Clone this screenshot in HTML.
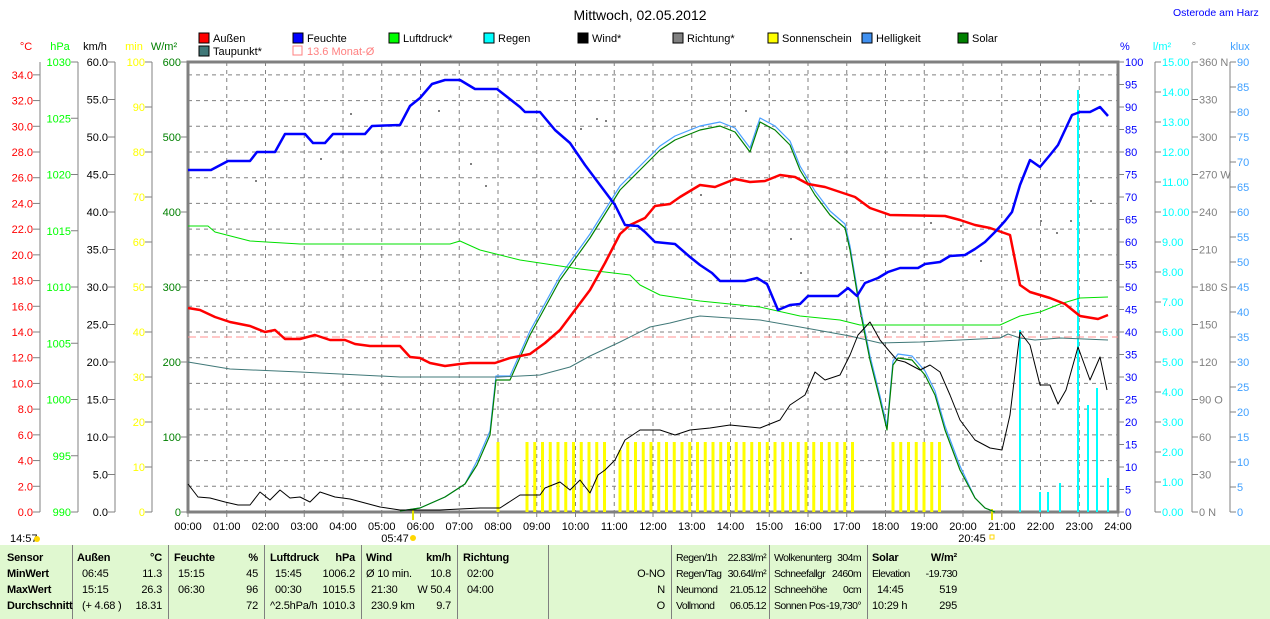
<!DOCTYPE html>
<html><head><meta charset="utf-8"><style>
body{margin:0;background:#fff;width:1270px;height:619px;overflow:hidden;font-family:"Liberation Sans",sans-serif}
svg text{font-family:"Liberation Sans",sans-serif;font-size:11px}
#tbl{position:absolute;left:0;top:545px;width:1270px;height:74px;background:#e0f8d0;font-size:11px;font-family:"Liberation Sans",sans-serif;letter-spacing:-0.2px}
#tbl div{position:absolute;white-space:nowrap}
#tbl div.n{letter-spacing:-0.6px;font-size:10.5px}
.sep{width:1px;background:#808080;top:0;height:74px}
b{font-weight:bold}
</style></head><body>
<svg id="s" width="1270" height="545" style="position:absolute;left:0;top:0">
<text x="640" y="20" text-anchor="middle" style="font-size:14px">Mittwoch, 02.05.2012</text>
<text x="1173" y="16" fill="#0000ff" style="font-size:10.5px">Osterode am Harz</text>
</svg>
<div id="tbl"></div>
<script>
const s=document.getElementById('s');const NS='http://www.w3.org/2000/svg';
function el(t,a,txt){const e=document.createElementNS(NS,t);for(const k in a)e.setAttribute(k,a[k]);if(txt!==undefined)e.textContent=txt;s.appendChild(e);return e}
const L=188,R=1118,T=62,B=512,H=450;
for(let i=1;i<24;i++){const x=L+i*(R-L)/24;el('line',{x1:x,y1:T,x2:x,y2:B,stroke:'#808080','stroke-dasharray':'4,4'})}
for(let v=2;v<=34;v+=2){const y=B-v*H/35;el('line',{x1:L,y1:y,x2:R,y2:y,stroke:'#808080','stroke-dasharray':'4,4'})}
function laxis(x,min,max,step,col,dec,lab,lx,vmax){el('line',{x1:x,y1:T,x2:x,y2:B,stroke:'#808080'});
 for(let v=min;v<=vmax+1e-9;v+=step){const y=B-(v-min)/(max-min)*H;el('line',{x1:x-7,y1:y,x2:x,y2:y,stroke:'#808080'});el('text',{x:x-7,y:y+4,'text-anchor':'end',fill:col},v.toFixed(dec))}
 el('text',{x:lx,y:50,'text-anchor':'middle',fill:col},lab)}
laxis(40,0,35,2,'#ff0000',1,'°C',26,34);
laxis(78,990,1030,5,'#00ff00',0,'hPa',60,1030);
laxis(115,0,60,5,'#000000',1,'km/h',95,60);
laxis(152,0,100,10,'#ffff00',0,'min',134,100);
laxis(188,0,600,100,'#008000',0,'W/m²',164,600);
function raxis(x,min,max,step,col,dec,lab,lx,fmt){el('line',{x1:x,y1:T,x2:x,y2:B,stroke:'#808080'});
 for(let v=min;v<=max+1e-9;v+=step){const y=B-(v-min)/(max-min)*H;el('line',{x1:x,y1:y,x2:x+6,y2:y,stroke:'#808080'});el('text',{x:x+7,y:y+4,fill:col},fmt?fmt(v):v.toFixed(dec))}
 el('text',{x:lx,y:50,'text-anchor':'middle',fill:col},lab)}
raxis(1155,0,15,1,'#00ffff',2,'l/m²',1162);
raxis(1192,0,360,30,'#808080',0,'°',1194,v=>v==360?'360 N':v==270?'270 W':v==180?'180 S':v==90?'90  O':v==0?'0   N':v);
raxis(1230,0,90,5,'#40a0ff',0,'klux',1240);
for(let v=0;v<=100;v+=5){const y=B-v*H/100;el('line',{x1:R,y1:y,x2:R+6,y2:y,stroke:'#808080'});el('text',{x:R+7,y:y+4,fill:'#0000ff'},v)}
el('text',{x:1120,y:50,fill:'#0000ff'},'%');
el('rect',{x:L,y:T,width:R-L,height:H,fill:'none',stroke:'#808080','stroke-width':3});
for(let i=0;i<=24;i++){const x=L+i*(R-L)/24;el('line',{x1:x,y1:B,x2:x,y2:B+5,stroke:'#808080'});el('text',{x:x,y:530,'text-anchor':'middle'},(i<10?'0':'')+i+':00')}
el('text',{x:10,y:542},'14:57');el('circle',{cx:37,cy:539,r:3,fill:'#ffd700'});
el('text',{x:395,y:542,'text-anchor':'middle'},'05:47');el('circle',{cx:413,cy:538,r:3,fill:'#ffd700'});
el('text',{x:972,y:542,'text-anchor':'middle'},'20:45');el('rect',{x:990,y:535,width:4,height:4,fill:'none',stroke:'#ffd700'});
const lg=[[199,38,'#ff0000','Außen'],[293,38,'#0000ff','Feuchte'],[389,38,'#00ff00','Luftdruck*'],[484,38,'#00ffff','Regen'],[578,38,'#000000','Wind*'],[673,38,'#808080','Richtung*'],[768,38,'#ffff00','Sonnenschein'],[862,38,'#4090f0','Helligkeit'],[958,38,'#008000','Solar'],[199,51,'#407878','Taupunkt*']];
lg.forEach(a=>{el('rect',{x:a[0],y:a[1]-5,width:10,height:10,fill:a[2],stroke:'#000'});el('text',{x:a[0]+14,y:a[1]+4},a[3])});
el('rect',{x:293,y:46,width:9,height:9,fill:'none',stroke:'#ff8080'});el('text',{x:307,y:55,fill:'#ff8080'},'13.6 Monat-Ø');
const sun=[498];for(let x=527;x<=858;x+=7.75)sun.push(x);for(let x=893;x<=944;x+=7.75)sun.push(x);
sun.forEach((x,i)=>{if(x>612&&x<618)return;const h=(Math.abs(x-585)<2||Math.abs(x-619)<2)?62:70;el('rect',{x:x-1.5,y:B-h,width:3,height:h,fill:'#ffff00'})});
el('line',{x1:413,y1:B-3,x2:413,y2:B+8,stroke:'#e0e000','stroke-width':2});el('line',{x1:992,y1:B-3,x2:992,y2:B+8,stroke:'#e0e000','stroke-width':2});
[[1020,330],[1040,492],[1048,492],[1060,483],[1078,90],[1088,405],[1097,388],[1108,478]].forEach(a=>el('rect',{x:a[0]-1,y:a[1],width:2,height:B-a[1],fill:'#00ffff'}));
el('line',{x1:L,y1:337,x2:R,y2:337,stroke:'#ff9090','stroke-dasharray':'8,4'});
function pl(pts,col,w){let p='';for(let i=0;i<pts.length;i+=2)p+=pts[i]+','+pts[i+1]+' ';el('polyline',{points:p,fill:'none',stroke:col,'stroke-width':w,'stroke-linejoin':'round'})}
const sol=[400,511,420,508,445,497,465,484,477,465,490,435,496,380,510,380,530,335,560,280,590,238,620,190,640,170,660,150,675,140,700,130,720,126,735,132,750,152,760,122,775,130,790,145,800,170,815,195,830,215,845,228,850,250,860,310,870,360,880,400,887,430,893,365,898,358,912,360,925,375,935,395,945,430,960,470,975,498,985,508,995,512];
const hel=sol.map((v,i)=>i%2&&v<480&&v>110?v-4:v);
pl(hel,'#4aa0ff',1.2);pl(sol,'#008000',1.2);
pl([188,226,208,226,215,232,250,241,300,244,450,244,460,241,480,250,520,260,580,269,630,275,640,285,660,295,700,301,760,307,800,316,840,320,860,325,1000,325,1020,316,1040,312,1060,304,1080,298,1108,297],'#00e000',1);
pl([188,362,230,369,300,372,400,377,500,377,540,375,570,367,590,356,620,342,650,327,670,323,690,318,700,316,760,320,800,327,850,336,880,343,920,342,960,340,1000,338,1008,334,1020,338,1035,340,1060,338,1108,340],'#407878',1);
pl([188,484,198,497,210,498,225,502,238,505,250,505,260,492,270,500,280,490,290,498,300,497,310,502,320,492,335,497,350,499,380,507,400,510,440,510,480,508,500,508,520,495,540,495,545,488,560,482,570,490,580,480,590,493,598,475,605,470,615,460,625,440,640,430,660,430,675,435,690,430,710,428,730,425,760,428,780,420,790,405,805,395,815,372,825,380,840,375,850,355,858,335,870,322,880,340,890,352,897,360,905,362,920,370,930,365,940,372,950,395,960,420,975,440,990,448,1002,450,1010,415,1020,332,1030,345,1040,385,1050,385,1058,404,1066,390,1078,347,1090,380,1100,357,1107,390],'#000',1);
pl([188,308,200,310,215,317,230,322,250,326,265,332,275,330,285,339,300,339,315,335,330,340,345,340,355,344,370,346,400,346,410,357,420,358,430,363,445,366,460,364,470,363,495,363,510,358,530,354,545,343,560,330,575,310,590,290,605,263,620,234,630,225,645,218,655,206,670,204,680,197,700,185,715,187,735,179,750,182,765,181,780,175,795,177,808,184,825,187,840,192,855,197,870,208,890,215,945,216,960,220,975,225,990,228,1010,235,1020,285,1030,292,1050,298,1065,304,1080,316,1098,319,1108,315],'#ff0000',2.5);
pl([188,170,211,170,228,161,250,161,257,152,275,152,285,134,305,134,313,143,325,143,333,134,365,134,372,126,400,125,410,106,420,98,432,84,445,80,460,80,475,89,497,89,520,107,525,112,540,112,555,130,570,143,585,165,600,185,615,205,625,225,638,226,645,232,655,242,675,244,690,257,700,265,712,273,720,281,745,281,757,278,767,284,778,310,790,305,800,304,808,296,838,296,848,288,857,296,865,283,878,278,888,272,900,268,918,268,925,264,940,262,950,256,965,255,975,249,985,242,995,232,1005,221,1012,212,1020,185,1030,160,1040,167,1050,155,1058,145,1065,130,1072,115,1080,112,1090,112,1100,107,1108,116],'#0000ff',2.5);
[[350,113],[470,163],[485,185],[596,118],[605,120],[700,194],[745,110],[790,238],[800,272],[860,315],[930,222],[960,225],[980,260],[1040,220],[1056,232],[1070,220],[1090,200],[255,180],[320,158],[580,128],[438,110]].forEach(a=>el('rect',{x:a[0],y:a[1],width:2,height:2,fill:'#808080'}));
const t=document.getElementById('tbl');
function c(x,y,txt,al,bold,n){const d=document.createElement('div');if(n)d.className='n';d.style.top=(y-9)+'px';if(al=='r'){d.style.right=(1270-x)+'px'}else d.style.left=x+'px';d.innerHTML=bold?'<b>'+txt+'</b>':txt;t.appendChild(d)}
[72,168,264,361,457,548,671,769,867].forEach(x=>{const d=document.createElement('div');d.className='sep';d.style.left=x+'px';t.appendChild(d)});
const rows=[16,32,48,64];
['Sensor','MinWert','MaxWert','Durchschnitt'].forEach((v,i)=>c(7,rows[i],v,'',1));
c(77,16,'Außen','',1);c(162,16,'°C','r',1);c(82,32,'06:45');c(162,32,'11.3','r');c(82,48,'15:15');c(162,48,'26.3','r');c(82,64,'(+ 4.68 )');c(162,64,'18.31','r');
c(174,16,'Feuchte','',1);c(258,16,'%','r',1);c(178,32,'15:15');c(258,32,'45','r');c(178,48,'06:30');c(258,48,'96','r');c(258,64,'72','r');
c(270,16,'Luftdruck','',1);c(355,16,'hPa','r',1);c(275,32,'15:45');c(355,32,'1006.2','r');c(275,48,'00:30');c(355,48,'1015.5','r');c(270,64,'^2.5hPa/h');c(355,64,'1010.3','r');
c(366,16,'Wind','',1);c(451,16,'km/h','r',1);c(366,32,'Ø 10 min.');c(451,32,'10.8','r');c(371,48,'21:30');c(451,48,'W 50.4','r');c(371,64,'230.9 km');c(451,64,'9.7','r');
c(463,16,'Richtung','',1);c(467,32,'02:00');c(467,48,'04:00');c(665,32,'O-NO','r');c(665,48,'N','r');c(665,64,'O','r');
c(676,16,'Regen/1h','', 0,1);c(766,16,'22.83l/m²','r',0,1);c(676,32,'Regen/Tag','',0,1);c(766,32,'30.64l/m²','r',0,1);c(676,48,'Neumond','',0,1);c(766,48,'21.05.12','r',0,1);c(676,64,'Vollmond','',0,1);c(766,64,'06.05.12','r',0,1);
c(774,16,'Wolkenunterg','',0,1);c(861,16,'304m','r',0,1);c(774,32,'Schneefallgr','',0,1);c(861,32,'2460m','r',0,1);c(774,48,'Schneehöhe','',0,1);c(861,48,'0cm','r',0,1);c(774,64,'Sonnen Pos','',0,1);c(861,64,'-19,730°','r',0,1);
c(872,16,'Solar','',1);c(957,16,'W/m²','r',1);c(872,32,'Elevation','',0,1);c(957,32,'-19.730','r',0,1);c(877,48,'14:45');c(957,48,'519','r');c(872,64,'10:29 h');c(957,64,'295','r');
</script>
</body></html>
